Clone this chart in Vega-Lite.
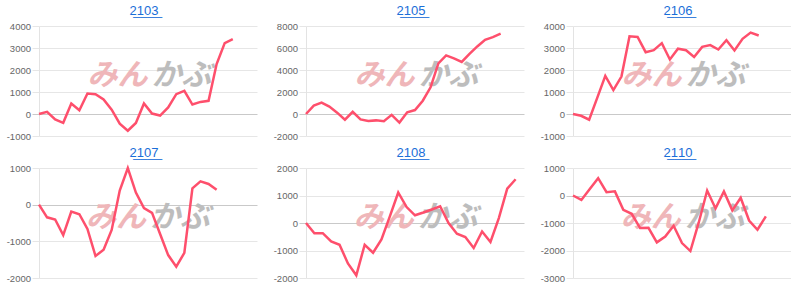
{
  "$schema": "https://vega.github.io/schema/vega-lite/v6.json",
  "background": "white",
  "padding": {"left": 6, "top": 5, "right": 0, "bottom": 0},
  "columns": 3,
  "bounds": "flush",
  "spacing": {"row": 32, "column": 49},
  "config": {
    "view": {"stroke": null},
    "title": {"font": "Liberation Sans", "fontSize": 13, "fontWeight": "normal", "color": "#1a6ed8", "anchor": "middle", "frame": "group", "offset": 3, "dx": -4},
    "axisY": {"title": null, "labelExpr": "'' + datum.value", "labelOverlap": false, "labelFont": "Liberation Sans", "labelFontSize": 9.5, "labelColor": "#666", "labelPadding": 1.5, "tickSize": 7, "domainColor": "#e3e3e3", "grid": true, "gridColor": "#e6e6e6", "tickColor": "#e6e6e6"}
  },
  "datasets": {
    "s": [
      {"p":"2103","i":0,"v":0},{"p":"2103","i":1,"v":100},{"p":"2103","i":2,"v":-250},{"p":"2103","i":3,"v":-400},{"p":"2103","i":4,"v":480},{"p":"2103","i":5,"v":170},{"p":"2103","i":6,"v":930},{"p":"2103","i":7,"v":900},{"p":"2103","i":8,"v":660},{"p":"2103","i":9,"v":200},{"p":"2103","i":10,"v":-440},{"p":"2103","i":11,"v":-760},{"p":"2103","i":12,"v":-410},{"p":"2103","i":13,"v":480},{"p":"2103","i":14,"v":20},{"p":"2103","i":15,"v":-70},{"p":"2103","i":16,"v":300},{"p":"2103","i":17,"v":900},{"p":"2103","i":18,"v":1050},{"p":"2103","i":19,"v":430},{"p":"2103","i":20,"v":550},{"p":"2103","i":21,"v":600},{"p":"2103","i":22,"v":2270},{"p":"2103","i":23,"v":3220},{"p":"2103","i":24,"v":3400},
      {"p":"2105","i":0,"v":0},{"p":"2105","i":1,"v":760},{"p":"2105","i":2,"v":1030},{"p":"2105","i":3,"v":670},{"p":"2105","i":4,"v":120},{"p":"2105","i":5,"v":-520},{"p":"2105","i":6,"v":200},{"p":"2105","i":7,"v":-490},{"p":"2105","i":8,"v":-640},{"p":"2105","i":9,"v":-580},{"p":"2105","i":10,"v":-650},{"p":"2105","i":11,"v":-80},{"p":"2105","i":12,"v":-780},{"p":"2105","i":13,"v":160},{"p":"2105","i":14,"v":360},{"p":"2105","i":15,"v":1210},{"p":"2105","i":16,"v":2430},{"p":"2105","i":17,"v":4600},{"p":"2105","i":18,"v":5330},{"p":"2105","i":19,"v":5050},{"p":"2105","i":20,"v":4730},{"p":"2105","i":21,"v":5470},{"p":"2105","i":22,"v":6140},{"p":"2105","i":23,"v":6750},{"p":"2105","i":24,"v":6990},{"p":"2105","i":25,"v":7300},
      {"p":"2106","i":0,"v":0},{"p":"2106","i":1,"v":-80},{"p":"2106","i":2,"v":-260},{"p":"2106","i":3,"v":730},{"p":"2106","i":4,"v":1730},{"p":"2106","i":5,"v":1090},{"p":"2106","i":6,"v":1700},{"p":"2106","i":7,"v":3530},{"p":"2106","i":8,"v":3500},{"p":"2106","i":9,"v":2810},{"p":"2106","i":10,"v":2900},{"p":"2106","i":11,"v":3220},{"p":"2106","i":12,"v":2480},{"p":"2106","i":13,"v":2970},{"p":"2106","i":14,"v":2900},{"p":"2106","i":15,"v":2590},{"p":"2106","i":16,"v":3050},{"p":"2106","i":17,"v":3130},{"p":"2106","i":18,"v":2930},{"p":"2106","i":19,"v":3350},{"p":"2106","i":20,"v":2890},{"p":"2106","i":21,"v":3420},{"p":"2106","i":22,"v":3700},{"p":"2106","i":23,"v":3570},
      {"p":"2107","i":0,"v":0},{"p":"2107","i":1,"v":-345},{"p":"2107","i":2,"v":-405},{"p":"2107","i":3,"v":-830},{"p":"2107","i":4,"v":-190},{"p":"2107","i":5,"v":-260},{"p":"2107","i":6,"v":-660},{"p":"2107","i":7,"v":-1400},{"p":"2107","i":8,"v":-1230},{"p":"2107","i":9,"v":-690},{"p":"2107","i":10,"v":385},{"p":"2107","i":11,"v":995},{"p":"2107","i":12,"v":330},{"p":"2107","i":13,"v":-95},{"p":"2107","i":14,"v":-225},{"p":"2107","i":15,"v":-800},{"p":"2107","i":16,"v":-1375},{"p":"2107","i":17,"v":-1690},{"p":"2107","i":18,"v":-1315},{"p":"2107","i":19,"v":445},{"p":"2107","i":20,"v":635},{"p":"2107","i":21,"v":565},{"p":"2107","i":22,"v":405},
      {"p":"2108","i":0,"v":0},{"p":"2108","i":1,"v":-370},{"p":"2108","i":2,"v":-370},{"p":"2108","i":3,"v":-670},{"p":"2108","i":4,"v":-790},{"p":"2108","i":5,"v":-1470},{"p":"2108","i":6,"v":-1900},{"p":"2108","i":7,"v":-790},{"p":"2108","i":8,"v":-1080},{"p":"2108","i":9,"v":-600},{"p":"2108","i":10,"v":240},{"p":"2108","i":11,"v":1110},{"p":"2108","i":12,"v":580},{"p":"2108","i":13,"v":280},{"p":"2108","i":14,"v":380},{"p":"2108","i":15,"v":490},{"p":"2108","i":16,"v":610},{"p":"2108","i":17,"v":0},{"p":"2108","i":18,"v":-390},{"p":"2108","i":19,"v":-510},{"p":"2108","i":20,"v":-910},{"p":"2108","i":21,"v":-310},{"p":"2108","i":22,"v":-690},{"p":"2108","i":23,"v":180},{"p":"2108","i":24,"v":1250},{"p":"2108","i":25,"v":1590},
      {"p":"2110","i":0,"v":0},{"p":"2110","i":1,"v":-160},{"p":"2110","i":2,"v":240},{"p":"2110","i":3,"v":630},{"p":"2110","i":4,"v":120},{"p":"2110","i":5,"v":150},{"p":"2110","i":6,"v":-520},{"p":"2110","i":7,"v":-665},{"p":"2110","i":8,"v":-1185},{"p":"2110","i":9,"v":-1175},{"p":"2110","i":10,"v":-1705},{"p":"2110","i":11,"v":-1490},{"p":"2110","i":12,"v":-1100},{"p":"2110","i":13,"v":-1730},{"p":"2110","i":14,"v":-2020},{"p":"2110","i":15,"v":-980},{"p":"2110","i":16,"v":180},{"p":"2110","i":17,"v":-470},{"p":"2110","i":18,"v":150},{"p":"2110","i":19,"v":-540},{"p":"2110","i":20,"v":-80},{"p":"2110","i":21,"v":-910},{"p":"2110","i":22,"v":-1245},{"p":"2110","i":23,"v":-760}
    ],
    "one": [{"k": 1}]
  },
  "concat": [
    {
      "title": {"text": "2\u03321\u03320\u03323\u0332"},
      "width": 218, "height": 110,
      "layer": [
        {"data": {"name": "one"}, "mark": {"type": "text", "text": "みん", "align": "right", "baseline": "middle", "dx": -2, "font": "Noto Sans CJK JP", "fontSize": 30, "fontWeight": "bold", "fontStyle": "italic", "color": "#efb6b9"},
         "encoding": {"x": {"datum": 13.7, "type": "quantitative", "scale": {"domain": [0, 27]}, "axis": null}, "y": {"datum": 1750, "type": "quantitative", "scale": {"domain": [-1000, 4000], "nice": false}, "axis": {"values": [-1000, 0, 1000, 2000, 3000, 4000], "labelOverlap": false}}}},
        {"data": {"name": "one"}, "mark": {"type": "text", "text": "かぶ", "align": "left", "baseline": "middle", "dx": 2, "font": "Noto Sans CJK JP", "fontSize": 30, "fontWeight": "bold", "fontStyle": "italic", "color": "#bdbdbd"},
         "encoding": {"x": {"datum": 13.7, "type": "quantitative", "scale": {"domain": [0, 27]}, "axis": null}, "y": {"datum": 1750, "type": "quantitative", "scale": {"domain": [-1000, 4000], "nice": false}, "axis": {"values": [-1000, 0, 1000, 2000, 3000, 4000], "labelOverlap": false}}}},
        {"data": {"name": "s"}, "transform": [{"filter": "datum.p == '2103'"}],
         "mark": {"type": "line", "color": "#fe4f6c", "strokeWidth": 2.5},
         "encoding": {
           "x": {"field": "i", "type": "quantitative", "scale": {"domain": [0, 27]}, "axis": null},
           "y": {"field": "v", "type": "quantitative", "scale": {"domain": [-1000, 4000], "nice": false},
                 "axis": {"values": [-1000, 0, 1000, 2000, 3000, 4000], "labelOverlap": false,
                          "gridColor": {"condition": {"test": "datum.value === 0", "value": "#c9c9c9"}, "value": "#e6e6e6"},
                          "tickColor": {"condition": {"test": "datum.value === 0", "value": "#c9c9c9"}, "value": "#e6e6e6"}}}
         }}
      ]
    },
    {
      "title": {"text": "2\u03321\u03320\u03325\u0332"},
      "width": 218, "height": 110,
      "layer": [
        {"data": {"name": "one"}, "mark": {"type": "text", "text": "みん", "align": "right", "baseline": "middle", "dx": -2, "font": "Noto Sans CJK JP", "fontSize": 30, "fontWeight": "bold", "fontStyle": "italic", "color": "#efb6b9"},
         "encoding": {"x": {"datum": 14.2, "type": "quantitative", "scale": {"domain": [0, 28]}, "axis": null}, "y": {"datum": 3500, "type": "quantitative", "scale": {"domain": [-2000, 8000], "nice": false}, "axis": {"values": [-2000, 0, 2000, 4000, 6000, 8000], "labelOverlap": false}}}},
        {"data": {"name": "one"}, "mark": {"type": "text", "text": "かぶ", "align": "left", "baseline": "middle", "dx": 2, "font": "Noto Sans CJK JP", "fontSize": 30, "fontWeight": "bold", "fontStyle": "italic", "color": "#bdbdbd"},
         "encoding": {"x": {"datum": 14.2, "type": "quantitative", "scale": {"domain": [0, 28]}, "axis": null}, "y": {"datum": 3500, "type": "quantitative", "scale": {"domain": [-2000, 8000], "nice": false}, "axis": {"values": [-2000, 0, 2000, 4000, 6000, 8000], "labelOverlap": false}}}},
        {"data": {"name": "s"}, "transform": [{"filter": "datum.p == '2105'"}],
         "mark": {"type": "line", "color": "#fe4f6c", "strokeWidth": 2.5},
         "encoding": {
           "x": {"field": "i", "type": "quantitative", "scale": {"domain": [0, 28]}, "axis": null},
           "y": {"field": "v", "type": "quantitative", "scale": {"domain": [-2000, 8000], "nice": false},
                 "axis": {"values": [-2000, 0, 2000, 4000, 6000, 8000], "labelOverlap": false,
                          "gridColor": {"condition": {"test": "datum.value === 0", "value": "#c9c9c9"}, "value": "#e6e6e6"},
                          "tickColor": {"condition": {"test": "datum.value === 0", "value": "#c9c9c9"}, "value": "#e6e6e6"}}}
         }}
      ]
    },
    {
      "title": {"text": "2\u03321\u03320\u03326\u0332"},
      "width": 218, "height": 110,
      "layer": [
        {"data": {"name": "one"}, "mark": {"type": "text", "text": "みん", "align": "right", "baseline": "middle", "dx": -2, "font": "Noto Sans CJK JP", "fontSize": 30, "fontWeight": "bold", "fontStyle": "italic", "color": "#efb6b9"},
         "encoding": {"x": {"datum": 13.7, "type": "quantitative", "scale": {"domain": [0, 27]}, "axis": null}, "y": {"datum": 1750, "type": "quantitative", "scale": {"domain": [-1000, 4000], "nice": false}, "axis": {"values": [-1000, 0, 1000, 2000, 3000, 4000], "labelOverlap": false}}}},
        {"data": {"name": "one"}, "mark": {"type": "text", "text": "かぶ", "align": "left", "baseline": "middle", "dx": 2, "font": "Noto Sans CJK JP", "fontSize": 30, "fontWeight": "bold", "fontStyle": "italic", "color": "#bdbdbd"},
         "encoding": {"x": {"datum": 13.7, "type": "quantitative", "scale": {"domain": [0, 27]}, "axis": null}, "y": {"datum": 1750, "type": "quantitative", "scale": {"domain": [-1000, 4000], "nice": false}, "axis": {"values": [-1000, 0, 1000, 2000, 3000, 4000], "labelOverlap": false}}}},
        {"data": {"name": "s"}, "transform": [{"filter": "datum.p == '2106'"}],
         "mark": {"type": "line", "color": "#fe4f6c", "strokeWidth": 2.5},
         "encoding": {
           "x": {"field": "i", "type": "quantitative", "scale": {"domain": [0, 27]}, "axis": null},
           "y": {"field": "v", "type": "quantitative", "scale": {"domain": [-1000, 4000], "nice": false},
                 "axis": {"values": [-1000, 0, 1000, 2000, 3000, 4000], "labelOverlap": false,
                          "gridColor": {"condition": {"test": "datum.value === 0", "value": "#c9c9c9"}, "value": "#e6e6e6"},
                          "tickColor": {"condition": {"test": "datum.value === 0", "value": "#c9c9c9"}, "value": "#e6e6e6"}}}
         }}
      ]
    },
    {
      "title": {"text": "2\u03321\u03320\u03327\u0332"},
      "width": 218, "height": 110,
      "layer": [
        {"data": {"name": "one"}, "mark": {"type": "text", "text": "みん", "align": "right", "baseline": "middle", "dx": -2, "font": "Noto Sans CJK JP", "fontSize": 30, "fontWeight": "bold", "fontStyle": "italic", "color": "#efb6b9"},
         "encoding": {"x": {"datum": 13.5, "type": "quantitative", "scale": {"domain": [0, 27]}, "axis": null}, "y": {"datum": -350, "type": "quantitative", "scale": {"domain": [-2000, 1000], "nice": false}, "axis": {"values": [-2000, -1000, 0, 1000], "labelOverlap": false}}}},
        {"data": {"name": "one"}, "mark": {"type": "text", "text": "かぶ", "align": "left", "baseline": "middle", "dx": 2, "font": "Noto Sans CJK JP", "fontSize": 30, "fontWeight": "bold", "fontStyle": "italic", "color": "#bdbdbd"},
         "encoding": {"x": {"datum": 13.5, "type": "quantitative", "scale": {"domain": [0, 27]}, "axis": null}, "y": {"datum": -350, "type": "quantitative", "scale": {"domain": [-2000, 1000], "nice": false}, "axis": {"values": [-2000, -1000, 0, 1000], "labelOverlap": false}}}},
        {"data": {"name": "s"}, "transform": [{"filter": "datum.p == '2107'"}],
         "mark": {"type": "line", "color": "#fe4f6c", "strokeWidth": 2.5},
         "encoding": {
           "x": {"field": "i", "type": "quantitative", "scale": {"domain": [0, 27]}, "axis": null},
           "y": {"field": "v", "type": "quantitative", "scale": {"domain": [-2000, 1000], "nice": false},
                 "axis": {"values": [-2000, -1000, 0, 1000], "labelOverlap": false,
                          "gridColor": {"condition": {"test": "datum.value === 0", "value": "#c9c9c9"}, "value": "#e6e6e6"},
                          "tickColor": {"condition": {"test": "datum.value === 0", "value": "#c9c9c9"}, "value": "#e6e6e6"}}}
         }}
      ]
    },
    {
      "title": {"text": "2\u03321\u03320\u03328\u0332"},
      "width": 218, "height": 110,
      "layer": [
        {"data": {"name": "one"}, "mark": {"type": "text", "text": "みん", "align": "right", "baseline": "middle", "dx": -2, "font": "Noto Sans CJK JP", "fontSize": 30, "fontWeight": "bold", "fontStyle": "italic", "color": "#efb6b9"},
         "encoding": {"x": {"datum": 13.1, "type": "quantitative", "scale": {"domain": [0, 26]}, "axis": null}, "y": {"datum": 200, "type": "quantitative", "scale": {"domain": [-2000, 2000], "nice": false}, "axis": {"values": [-2000, -1000, 0, 1000, 2000], "labelOverlap": false}}}},
        {"data": {"name": "one"}, "mark": {"type": "text", "text": "かぶ", "align": "left", "baseline": "middle", "dx": 2, "font": "Noto Sans CJK JP", "fontSize": 30, "fontWeight": "bold", "fontStyle": "italic", "color": "#bdbdbd"},
         "encoding": {"x": {"datum": 13.1, "type": "quantitative", "scale": {"domain": [0, 26]}, "axis": null}, "y": {"datum": 200, "type": "quantitative", "scale": {"domain": [-2000, 2000], "nice": false}, "axis": {"values": [-2000, -1000, 0, 1000, 2000], "labelOverlap": false}}}},
        {"data": {"name": "s"}, "transform": [{"filter": "datum.p == '2108'"}],
         "mark": {"type": "line", "color": "#fe4f6c", "strokeWidth": 2.5},
         "encoding": {
           "x": {"field": "i", "type": "quantitative", "scale": {"domain": [0, 26]}, "axis": null},
           "y": {"field": "v", "type": "quantitative", "scale": {"domain": [-2000, 2000], "nice": false},
                 "axis": {"values": [-2000, -1000, 0, 1000, 2000], "labelOverlap": false,
                          "gridColor": {"condition": {"test": "datum.value === 0", "value": "#c9c9c9"}, "value": "#e6e6e6"},
                          "tickColor": {"condition": {"test": "datum.value === 0", "value": "#c9c9c9"}, "value": "#e6e6e6"}}}
         }}
      ]
    },
    {
      "title": {"text": "2\u03321\u03321\u03320\u0332"},
      "width": 218, "height": 110,
      "layer": [
        {"data": {"name": "one"}, "mark": {"type": "text", "text": "みん", "align": "right", "baseline": "middle", "dx": -2, "font": "Noto Sans CJK JP", "fontSize": 30, "fontWeight": "bold", "fontStyle": "italic", "color": "#efb6b9"},
         "encoding": {"x": {"datum": 13.1, "type": "quantitative", "scale": {"domain": [0, 26]}, "axis": null}, "y": {"datum": -800, "type": "quantitative", "scale": {"domain": [-3000, 1000], "nice": false}, "axis": {"values": [-3000, -2000, -1000, 0, 1000], "labelOverlap": false}}}},
        {"data": {"name": "one"}, "mark": {"type": "text", "text": "かぶ", "align": "left", "baseline": "middle", "dx": 2, "font": "Noto Sans CJK JP", "fontSize": 30, "fontWeight": "bold", "fontStyle": "italic", "color": "#bdbdbd"},
         "encoding": {"x": {"datum": 13.1, "type": "quantitative", "scale": {"domain": [0, 26]}, "axis": null}, "y": {"datum": -800, "type": "quantitative", "scale": {"domain": [-3000, 1000], "nice": false}, "axis": {"values": [-3000, -2000, -1000, 0, 1000], "labelOverlap": false}}}},
        {"data": {"name": "s"}, "transform": [{"filter": "datum.p == '2110'"}],
         "mark": {"type": "line", "color": "#fe4f6c", "strokeWidth": 2.5},
         "encoding": {
           "x": {"field": "i", "type": "quantitative", "scale": {"domain": [0, 26]}, "axis": null},
           "y": {"field": "v", "type": "quantitative", "scale": {"domain": [-3000, 1000], "nice": false},
                 "axis": {"values": [-3000, -2000, -1000, 0, 1000], "labelOverlap": false,
                          "gridColor": {"condition": {"test": "datum.value === 0", "value": "#c9c9c9"}, "value": "#e6e6e6"},
                          "tickColor": {"condition": {"test": "datum.value === 0", "value": "#c9c9c9"}, "value": "#e6e6e6"}}}
         }}
      ]
    }
  ]
}
